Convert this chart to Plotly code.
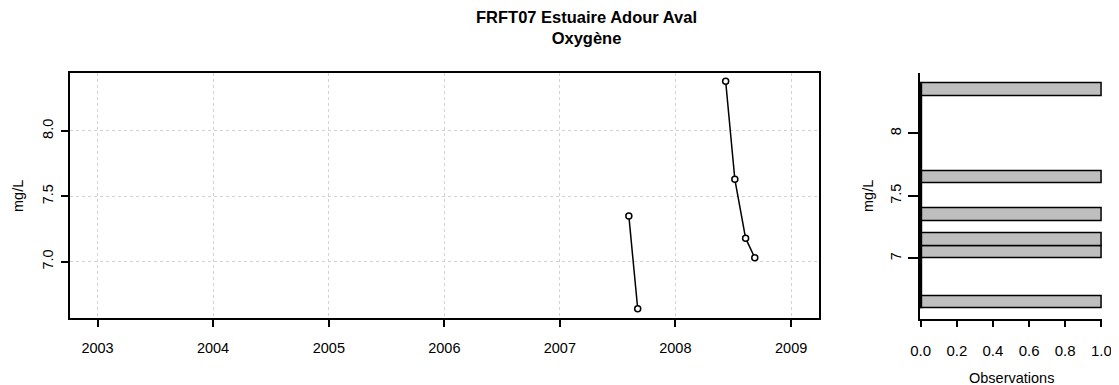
import numpy as np
import plotly.graph_objects as go

# Données
dates_2007 = ["2007-08-07", "2007-09-04"]
oxy_2007 = [7.35, 6.64]
dates_2008 = ["2008-06-08", "2008-07-07", "2008-08-10", "2008-09-08"]
oxy_2008 = [8.38, 7.63, 7.18, 7.03]

hist_breaks = [6.6, 6.7, 6.8, 6.9, 7.0, 7.1, 7.2, 7.3, 7.4, 7.5,
               7.6, 7.7, 7.8, 7.9, 8.0, 8.1, 8.2, 8.3, 8.4]

titre = "FRFT07 Estuaire Adour Aval<br>Oxygène"
FONT = "Liberation Sans, Arial, sans-serif"

# la page html garde une marge de 8px autour de la figure
OFF = 8
FW, FH = 1119 - OFF, 385 - OFF


def px(x):
    return (x - OFF) / FW


def py(y):
    return 1 - (y - OFF) / FH


# série avec coupure entre campagnes
x_all = dates_2007 + [None] + dates_2008
y_all = oxy_2007 + [None] + oxy_2008

counts, _ = np.histogram(oxy_2007 + oxy_2008, bins=hist_breaks)
edges = np.array(hist_breaks)
centres = (edges[:-1] + edges[1:]) / 2
largeurs = np.diff(edges)

fig = go.Figure()

fig.add_trace(go.Scatter(
    x=x_all, y=y_all, mode="lines+markers", connectgaps=False,
    line=dict(color="black", width=1.5),
    marker=dict(symbol="circle", size=6, color="white",
                line=dict(color="black", width=1.5)),
    xaxis="x", yaxis="y", showlegend=False,
))

fig.add_trace(go.Bar(
    y=centres, x=counts, width=largeurs, orientation="h",
    marker=dict(color="#BEBEBE", line=dict(color="black", width=1.5)),
    xaxis="x2", yaxis="y2", showlegend=False,
))

# bordures des classes vides (trait épais à zéro)
fig.add_trace(go.Scatter(
    x=[0, 0], y=[hist_breaks[0], hist_breaks[-1]], mode="lines",
    line=dict(color="black", width=3),
    xaxis="x2", yaxis="y2", showlegend=False,
))

grid = dict(showgrid=True, gridcolor="#D3D3D3", griddash="dot", gridwidth=1)

fig.update_layout(
    template="none",
    width=FW, height=FH,
    margin=dict(l=0, r=0, t=0, b=0, autoexpand=False),
    plot_bgcolor="white", paper_bgcolor="white",
    font=dict(family=FONT, size=14.5, color="black"),
    xaxis=dict(
        domain=[px(70), px(818.7)], automargin=False,
        type="date", range=["2002-10-06", "2009-03-29"],
        tick0="2003-01-01", dtick="M12", tickformat="%Y",
        showline=True, linecolor="black", linewidth=1.5, mirror=True,
        ticks="outside", ticklen=7, tickwidth=1.5, tickcolor="black",
        ticklabelstandoff=9, zeroline=False, **grid,
    ),
    yaxis=dict(
        domain=[py(318), py(72.7)], automargin=False,
        range=[6.569, 8.446], tickvals=[7.0, 7.5, 8.0], tickformat=".1f",
        tickangle=-90,
        showline=True, linecolor="black", linewidth=1.5, mirror=True,
        ticks="outside", ticklen=7, tickwidth=1.5, tickcolor="black",
        ticklabelstandoff=2, zeroline=False, **grid,
    ),
    xaxis2=dict(
        domain=[px(919.8), px(1102.2)], anchor="y2", automargin=False,
        range=[-0.005, 1.005], tickvals=[0, 0.2, 0.4, 0.6, 0.8, 1.0],
        tickformat=".1f", tickfont=dict(size=15),
        showline=True, linecolor="black", linewidth=1.5,
        ticks="outside", ticklen=6, tickwidth=1.5, tickcolor="black",
        ticklabelstandoff=11, showgrid=False, zeroline=False,
    ),
    yaxis2=dict(
        domain=[py(319.3), py(73.3)], anchor="x2", automargin=False,
        range=[6.512, 8.48], tickvals=[7, 7.5, 8], ticktext=["7", "7.5", "8"],
        tickangle=-90,
        showline=True, linecolor="black", linewidth=1.5,
        ticks="outside", ticklen=10, tickwidth=1.5, tickcolor="black",
        ticklabelstandoff=1, showgrid=False, zeroline=False,
    ),
    bargap=0,
    annotations=[
        dict(text="<b>" + titre.replace("<br>", "</b><br><b>") + "</b>",
             x=px(586), y=py(27), xref="paper", yref="paper",
             xanchor="center", yanchor="middle", showarrow=False,
             font=dict(size=16.5), align="center"),
        dict(text="mg/L", x=px(18), y=py(196), xref="paper", yref="paper",
             textangle=-90, showarrow=False, font=dict(size=14.5),
             xanchor="center", yanchor="middle"),
        dict(text="mg/L", x=px(868), y=py(196), xref="paper", yref="paper",
             textangle=-90, showarrow=False, font=dict(size=14.5),
             xanchor="center", yanchor="middle"),
        dict(text="Observations", x=px(1011), y=py(378), xref="paper",
             yref="paper", showarrow=False, font=dict(size=14.5),
             xanchor="center", yanchor="middle"),
    ],
)

fig.write_html("out.html")
